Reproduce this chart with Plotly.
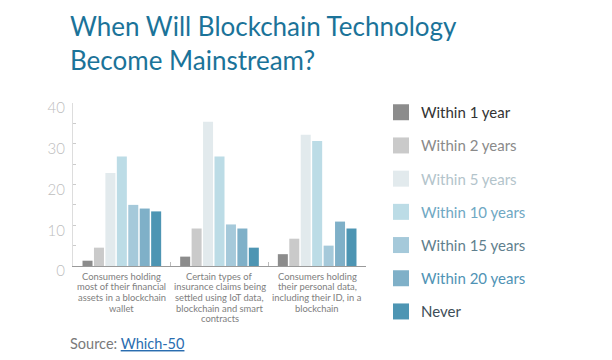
import plotly.graph_objects as go

categories = [
    "Consumers holding most of their financial assets in a blockchain wallet",
    "Certain types of insurance claims being settled using IoT data, blockchain and smart contracts",
    "Consumers holding their personal data, including their ID, in a blockchain",
]
category_lines = [
    ["Consumers holding", "most of their financial", "assets in a blockchain", "wallet"],
    ["Certain types of", "insurance claims being", "settled using IoT data,", "blockchain and smart", "contracts"],
    ["Consumers holding", "their personal data,", "including their ID, in a", "blockchain"],
]
series_names = ["Within 1 year", "Within 2 years", "Within 5 years", "Within 10 years",
                "Within 15 years", "Within 20 years", "Never"]
within_1_year = [1.3, 2.3, 2.9]
within_2_years = [4.5, 9.2, 6.7]
within_5_years = [22.8, 35.4, 32.2]
within_10_years = [26.9, 26.9, 30.7]
within_15_years = [15.0, 10.2, 5.0]
within_20_years = [14.1, 9.2, 10.9]
never = [13.4, 4.5, 9.2]
series_values = [within_1_year, within_2_years, within_5_years, within_10_years,
                 within_15_years, within_20_years, never]
y_ticks = [0, 10, 20, 30, 40]

bar_colors = ["#8c8c8c", "#cacaca", "#e2eaed", "#bcdce6", "#a5c9da", "#7fb0c8", "#4d95b3"]
legend_text_colors = ["#333333", "#8a8a8a", "#b3c4cb", "#6fa8c3", "#5f7f8e", "#4f93b5", "#3d4d57"]

FONT = "Lato, Open Sans, sans-serif"

fig = go.Figure()
for i, (name, vals) in enumerate(zip(series_names, series_values)):
    fig.add_trace(go.Bar(
        x=categories, y=vals, name=name,
        marker=dict(color=bar_colors[i], line=dict(width=0)),
        showlegend=False,
    ))
# legend entries (square swatches)
for i, name in enumerate(series_names):
    fig.add_trace(go.Scatter(
        x=[None], y=[None], mode="markers",
        name=f"<span style='color:{legend_text_colors[i]}'>{name}</span>",
        marker=dict(symbol="square", size=16, color=bar_colors[i], line=dict(width=0)),
        legendgroup=f"g{i}", showlegend=True, hoverinfo="skip",
    ))

# page has an 8px body margin; figure coordinates are page - 8
W, H = 604, 352
L, T = 65, 95
base = 258  # x-axis baseline in figure px
B = H - base
R = W - 358
pw = W - L - R
ph = H - T - B

annotations = [
    dict(
        text="When Will Blockchain Technology<br>Become Mainstream?",
        xref="paper", yref="paper",
        x=(60 - L) / pw, y=(base - 0) / ph,
        xanchor="left", yanchor="top", align="left", showarrow=False,
        font=dict(size=26, color="#1b7399", family=FONT),
    ),
    dict(
        text="Source: <span style='color:#2a6db0'><u>Which-50</u></span>",
        xref="paper", yref="paper",
        x=(60 - L) / pw, y=(base - 335) / ph,
        xanchor="left", yanchor="middle", showarrow=False,
        font=dict(size=14.5, color="#7a7a7a", family=FONT),
    ),
]
for cat, lines in zip(categories, category_lines):
    for j, line in enumerate(lines):
        annotations.append(dict(
            text=line, xref="x", yref="y", x=cat, y=0,
            yshift=-(10 + 10.7 * j), xanchor="center", yanchor="middle",
            showarrow=False,
            font=dict(size=9.4, color="#808080", family=FONT),
        ))

fig.update_layout(
    width=W, height=H,
    margin=dict(l=L, r=R, t=T, b=B, autoexpand=False),
    paper_bgcolor="white", plot_bgcolor="white",
    font=dict(family=FONT),
    barmode="group", bargap=0.18, bargroupgap=0.125,
    legend=dict(
        xref="container", yref="container",
        x=373 / W, xanchor="left",
        y=1 - 88 / H, yanchor="top",
        traceorder="grouped", tracegroupgap=10.7, itemsizing="trace",
        font=dict(size=15, family=FONT),
        bgcolor="rgba(0,0,0,0)",
        maxheight=340,
    ),
    showlegend=True,
    xaxis=dict(
        showline=True, linecolor="#9a9a9a", linewidth=1,
        ticks="inside", ticklen=4, tickcolor="#bbbbbb", tickson="boundaries",
        showticklabels=False, automargin=False,
        showgrid=False, zeroline=False,
    ),
    yaxis=dict(
        range=[0, 40], tickvals=y_ticks,
        showline=True, linecolor="#dddddd", linewidth=1,
        ticks="inside", ticklen=3, tickcolor="#cccccc",
        minor=dict(dtick=5, ticks="inside", ticklen=3, tickcolor="#cccccc"),
        tickfont=dict(size=15, color="#bdbdbd", weight=300),
        ticklabelshift=5, ticklabelstandoff=4, automargin=False,
        showgrid=False, zeroline=False,
    ),
    annotations=annotations,
)

fig.write_html("out.html")
